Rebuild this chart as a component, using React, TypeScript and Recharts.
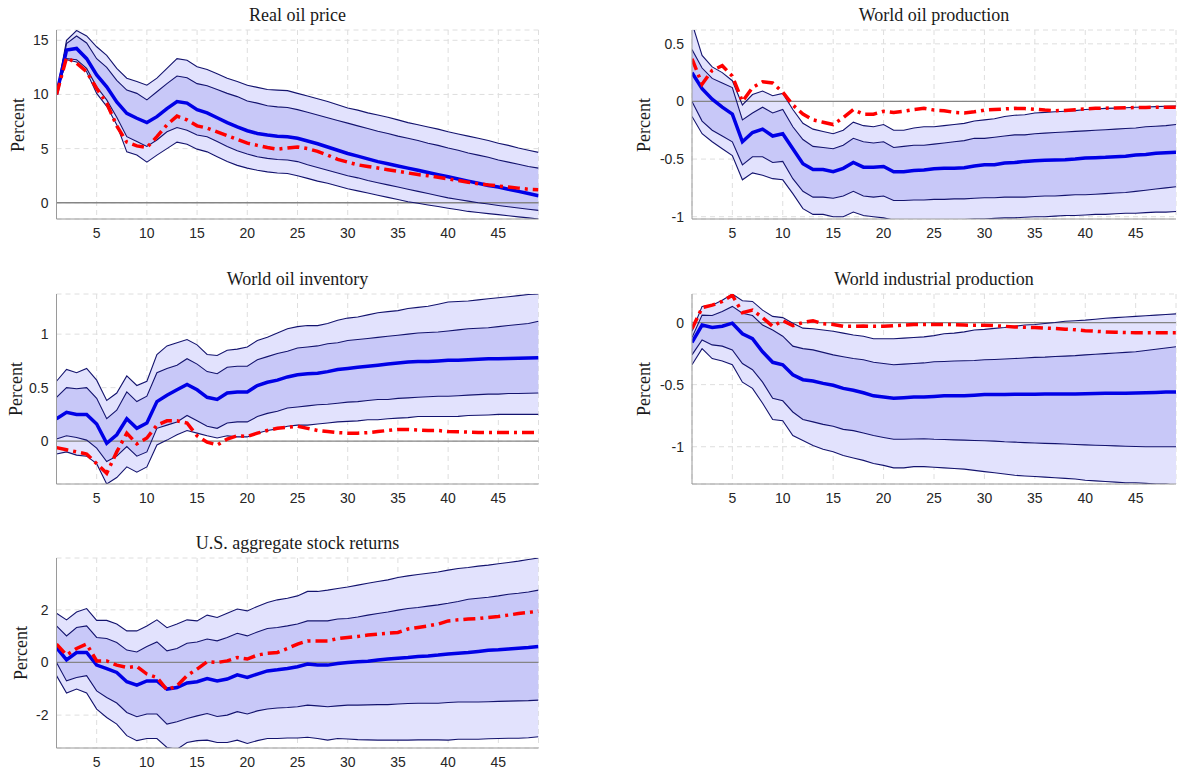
import { Area, CartesianGrid, ComposedChart, Line, ReferenceLine, XAxis, YAxis } from "recharts";

// horizon (months after the shock)
const horizon = Array.from({ length: 49 }, (_, i) => i + 1);
const xTicks = [5, 10, 15, 20, 25, 30, 35, 40, 45];

// Real oil price
const oilPriceHi90 = [10, 15.0, 15.9, 15.4, 14.4, 13.6, 12.4, 11.5, 11.2, 10.85, 11.5, 12.4, 13.3, 13.15, 12.55, 12.3, 11.9, 11.5, 11.2, 10.85, 10.65, 10.45, 10.4, 10.35, 10.1, 9.85, 9.6, 9.35, 9.05, 8.75, 8.55, 8.3, 8.1, 7.9, 7.65, 7.4, 7.2, 7.0, 6.8, 6.55, 6.35, 6.15, 5.95, 5.75, 5.5, 5.3, 5.05, 4.85, 4.65];
const oilPriceHi68 = [10, 14.7, 15.4, 14.75, 13.3, 12.5, 11.3, 10.4, 10.1, 9.5, 10.25, 11.0, 11.7, 11.55, 11.0, 10.8, 10.45, 10.1, 9.8, 9.4, 9.2, 8.95, 8.85, 8.8, 8.6, 8.35, 8.1, 7.85, 7.6, 7.35, 7.1, 6.85, 6.6, 6.4, 6.15, 5.95, 5.75, 5.5, 5.3, 5.05, 4.85, 4.6, 4.4, 4.2, 3.95, 3.75, 3.55, 3.35, 3.2];
const oilPriceMedian = [10, 14.1, 14.25, 13.3, 11.8, 10.7, 9.3, 8.25, 7.8, 7.4, 7.95, 8.7, 9.35, 9.2, 8.6, 8.3, 7.85, 7.4, 7.0, 6.65, 6.4, 6.25, 6.15, 6.1, 5.95, 5.7, 5.45, 5.15, 4.85, 4.55, 4.3, 4.05, 3.8, 3.6, 3.4, 3.2, 3.0, 2.8, 2.6, 2.4, 2.2, 2.0, 1.8, 1.6, 1.45, 1.25, 1.05, 0.85, 0.65];
const oilPriceAlt = [10, 13.4, 12.9, 12.1, 10.55, 9.2, 7.1, 5.6, 5.25, 5.1, 6.1, 7.2, 8.0, 7.65, 7.1, 6.9, 6.55, 6.2, 5.85, 5.5, 5.3, 5.1, 4.95, 5.05, 5.15, 5.0, 4.75, 4.4, 4.0, 3.75, 3.5, 3.35, 3.2, 3.05, 2.9, 2.75, 2.6, 2.5, 2.35, 2.2, 2.05, 1.9, 1.75, 1.65, 1.55, 1.45, 1.35, 1.25, 1.2];
const oilPriceLo68 = [10, 13.3, 13.2, 12.4, 10.7, 9.5, 7.9, 6.1, 5.65, 5.2, 5.8, 6.55, 6.95, 6.7, 6.25, 6.1, 5.65, 5.2, 4.8, 4.5, 4.25, 4.1, 4.0, 3.95, 3.8, 3.5, 3.25, 3.0, 2.75, 2.5, 2.3, 2.05, 1.85, 1.65, 1.45, 1.25, 1.05, 0.85, 0.65, 0.45, 0.3, 0.15, 0.0, -0.12, -0.25, -0.37, -0.48, -0.6, -0.7];
const oilPriceLo90 = [10, 13.2, 13.0, 12.1, 10.1, 8.9, 7.2, 4.7, 4.4, 3.75, 4.4, 5.0, 5.6, 5.4, 4.95, 4.7, 4.25, 3.8, 3.45, 3.2, 3.0, 2.85, 2.75, 2.7, 2.5, 2.25, 2.0, 1.8, 1.55, 1.3, 1.1, 0.9, 0.7, 0.5, 0.3, 0.1, -0.05, -0.2, -0.35, -0.5, -0.65, -0.8, -0.9, -1.0, -1.1, -1.2, -1.3, -1.4, -1.5];

// World oil production
const oilProdHi90 = [0.68, 0.4, 0.3, 0.25, 0.18, -0.03, 0.06, 0.09, 0.05, 0.07, -0.07, -0.19, -0.24, -0.26, -0.28, -0.25, -0.18, -0.21, -0.22, -0.2, -0.25, -0.25, -0.23, -0.22, -0.22, -0.21, -0.2, -0.19, -0.17, -0.16, -0.15, -0.13, -0.12, -0.115, -0.1, -0.095, -0.09, -0.085, -0.08, -0.07, -0.065, -0.06, -0.058, -0.055, -0.05, -0.048, -0.045, -0.042, -0.04];
const oilProdHi68 = [0.45, 0.29, 0.2, 0.16, 0.12, -0.16, -0.1, -0.05, -0.1, -0.07, -0.22, -0.33, -0.39, -0.4, -0.41, -0.38, -0.32, -0.35, -0.36, -0.35, -0.4, -0.39, -0.38, -0.38, -0.37, -0.36, -0.35, -0.34, -0.32, -0.32, -0.31, -0.3, -0.29, -0.29, -0.28, -0.275, -0.27, -0.265, -0.26, -0.255, -0.25, -0.245, -0.24, -0.235, -0.23, -0.22, -0.215, -0.21, -0.2];
const oilProdMedian = [0.25, 0.11, 0.02, -0.05, -0.11, -0.35, -0.27, -0.24, -0.3, -0.28, -0.41, -0.54, -0.59, -0.59, -0.61, -0.58, -0.53, -0.57, -0.57, -0.565, -0.61, -0.61, -0.6, -0.595, -0.585, -0.58, -0.58, -0.575, -0.56, -0.55, -0.55, -0.535, -0.53, -0.52, -0.515, -0.51, -0.508, -0.505, -0.5, -0.49, -0.488, -0.485, -0.48, -0.475, -0.465, -0.46, -0.45, -0.445, -0.44];
const oilProdAlt = [0.37, 0.15, 0.27, 0.31, 0.22, 0.0, 0.12, 0.17, 0.16, 0.08, -0.03, -0.11, -0.16, -0.18, -0.2, -0.14, -0.07, -0.11, -0.11, -0.085, -0.095, -0.085, -0.07, -0.06, -0.075, -0.08, -0.095, -0.1, -0.09, -0.075, -0.07, -0.065, -0.06, -0.062, -0.068, -0.075, -0.08, -0.078, -0.072, -0.065, -0.06, -0.058, -0.056, -0.055, -0.053, -0.052, -0.05, -0.05, -0.05];
const oilProdLo68 = [0.0, -0.17, -0.25, -0.3, -0.35, -0.55, -0.48, -0.48, -0.53, -0.52, -0.67, -0.78, -0.83, -0.83, -0.84, -0.82, -0.78, -0.82, -0.83, -0.82, -0.86, -0.86, -0.855, -0.855, -0.85, -0.85, -0.845, -0.845, -0.84, -0.835, -0.835, -0.83, -0.83, -0.83, -0.825, -0.82, -0.82, -0.815, -0.81, -0.81, -0.805, -0.8, -0.795, -0.79, -0.78, -0.77, -0.76, -0.75, -0.74];
const oilProdLo90 = [-0.13, -0.28, -0.35, -0.41, -0.47, -0.68, -0.62, -0.64, -0.67, -0.68, -0.8, -0.93, -0.98, -0.98, -1.0, -1.0, -0.96, -0.99, -1.0, -1.01, -1.03, -1.03, -1.03, -1.035, -1.03, -1.03, -1.03, -1.025, -1.02, -1.02, -1.015, -1.01, -1.01, -1.005, -1.0, -1.0, -0.995, -0.99, -0.99, -0.985, -0.98, -0.98, -0.975, -0.97, -0.97, -0.965, -0.96, -0.96, -0.955];

// World oil inventory
const inventoryHi90 = [0.56, 0.67, 0.64, 0.68, 0.57, 0.38, 0.45, 0.61, 0.52, 0.56, 0.81, 0.89, 0.92, 0.95, 0.9, 0.81, 0.8, 0.85, 0.86, 0.88, 0.94, 0.97, 1.01, 1.05, 1.07, 1.08, 1.08, 1.1, 1.13, 1.15, 1.16, 1.18, 1.2, 1.21, 1.22, 1.24, 1.25, 1.26, 1.28, 1.3, 1.305, 1.31, 1.32, 1.33, 1.34, 1.35, 1.36, 1.37, 1.375];
const inventoryHi68 = [0.41, 0.5, 0.49, 0.5, 0.4, 0.21, 0.29, 0.46, 0.37, 0.42, 0.64, 0.68, 0.71, 0.77, 0.72, 0.65, 0.63, 0.69, 0.7, 0.7, 0.76, 0.79, 0.82, 0.84, 0.87, 0.88, 0.89, 0.91, 0.92, 0.94, 0.95, 0.96, 0.97, 0.98, 0.99, 1.0, 1.01, 1.015, 1.02, 1.03, 1.04, 1.05, 1.055, 1.06, 1.07, 1.08, 1.09, 1.1, 1.12];
const inventoryMedian = [0.21, 0.27, 0.25, 0.25, 0.16, -0.02, 0.06, 0.21, 0.12, 0.17, 0.37, 0.43, 0.48, 0.53, 0.48, 0.41, 0.39, 0.45, 0.46, 0.46, 0.52, 0.55, 0.57, 0.6, 0.62, 0.63, 0.635, 0.65, 0.67, 0.68, 0.69, 0.7, 0.71, 0.72, 0.73, 0.74, 0.745, 0.745, 0.75, 0.755, 0.757, 0.76, 0.765, 0.77, 0.77, 0.772, 0.775, 0.778, 0.78];
const inventoryAlt = [-0.06, -0.08, -0.1, -0.12, -0.21, -0.3, -0.1, 0.075, -0.025, 0.03, 0.15, 0.19, 0.19, 0.17, 0.05, -0.01, -0.035, 0.02, 0.05, 0.045, 0.075, 0.1, 0.12, 0.13, 0.14, 0.12, 0.1, 0.09, 0.08, 0.075, 0.075, 0.08, 0.09, 0.1, 0.11, 0.11, 0.105, 0.1, 0.1, 0.09, 0.088, 0.085, 0.082, 0.08, 0.08, 0.08, 0.08, 0.08, 0.08];
const inventoryLo68 = [0.02, 0.05, 0.035, 0.01, -0.065, -0.19, -0.14, -0.05, -0.14, -0.1, 0.12, 0.15, 0.18, 0.24, 0.19, 0.14, 0.12, 0.17, 0.18, 0.18, 0.23, 0.26, 0.28, 0.31, 0.32, 0.33, 0.34, 0.345, 0.355, 0.365, 0.37, 0.38, 0.39, 0.39, 0.4, 0.405, 0.41, 0.415, 0.42, 0.42, 0.425, 0.43, 0.435, 0.44, 0.44, 0.445, 0.445, 0.448, 0.45];
const inventoryLo90 = [-0.12, -0.1, -0.13, -0.14, -0.21, -0.4, -0.34, -0.24, -0.29, -0.24, -0.035, 0.01, 0.06, 0.1, 0.075, 0.05, 0.03, 0.05, 0.04, 0.04, 0.075, 0.1, 0.115, 0.14, 0.15, 0.15, 0.16, 0.17, 0.18, 0.185, 0.19, 0.2, 0.2, 0.21, 0.215, 0.22, 0.23, 0.23, 0.23, 0.23, 0.232, 0.24, 0.242, 0.245, 0.25, 0.25, 0.25, 0.25, 0.25];

// World industrial production
const indProdHi90 = [-0.07, 0.13, 0.14, 0.18, 0.23, 0.175, 0.17, 0.1, 0.05, 0.04, -0.005, -0.045, -0.05, -0.06, -0.07, -0.085, -0.1, -0.11, -0.13, -0.13, -0.13, -0.125, -0.12, -0.115, -0.105, -0.09, -0.085, -0.075, -0.06, -0.055, -0.047, -0.04, -0.03, -0.02, -0.015, -0.007, 0.0, 0.01, 0.015, 0.02, 0.027, 0.035, 0.04, 0.045, 0.05, 0.055, 0.06, 0.065, 0.07];
const indProdHi68 = [-0.12, 0.06, 0.057, 0.09, 0.13, 0.075, 0.057, -0.02, -0.06, -0.11, -0.19, -0.21, -0.22, -0.24, -0.26, -0.275, -0.29, -0.3, -0.32, -0.33, -0.34, -0.335, -0.33, -0.325, -0.315, -0.313, -0.31, -0.308, -0.305, -0.3, -0.297, -0.294, -0.29, -0.285, -0.28, -0.278, -0.273, -0.27, -0.266, -0.26, -0.255, -0.25, -0.245, -0.24, -0.235, -0.225, -0.215, -0.205, -0.195];
const indProdMedian = [-0.16, -0.02, -0.04, -0.03, -0.005, -0.09, -0.13, -0.235, -0.32, -0.34, -0.42, -0.46, -0.47, -0.49, -0.505, -0.53, -0.545, -0.565, -0.59, -0.6, -0.61, -0.605, -0.6, -0.6, -0.595, -0.59, -0.59, -0.59, -0.585, -0.58, -0.58, -0.58, -0.578, -0.578, -0.578, -0.576, -0.576, -0.576, -0.575, -0.573, -0.572, -0.57, -0.57, -0.57, -0.567, -0.565, -0.563, -0.56, -0.56];
const indProdAlt = [-0.05, 0.12, 0.14, 0.17, 0.22, 0.08, 0.1, 0.04, -0.03, 0.015, -0.025, 0.0, 0.015, -0.01, -0.015, -0.03, -0.03, -0.028, -0.03, -0.03, -0.025, -0.02, -0.015, -0.015, -0.015, -0.015, -0.017, -0.02, -0.022, -0.022, -0.025, -0.03, -0.035, -0.038, -0.04, -0.045, -0.048, -0.053, -0.058, -0.065, -0.07, -0.075, -0.078, -0.08, -0.082, -0.083, -0.083, -0.083, -0.083];
const indProdLo68 = [-0.26, -0.14, -0.18, -0.19, -0.22, -0.33, -0.38, -0.48, -0.61, -0.63, -0.72, -0.78, -0.8, -0.82, -0.835, -0.86, -0.87, -0.89, -0.91, -0.925, -0.94, -0.94, -0.938, -0.936, -0.94, -0.942, -0.945, -0.947, -0.95, -0.952, -0.955, -0.96, -0.963, -0.967, -0.97, -0.973, -0.975, -0.978, -0.982, -0.985, -0.988, -0.99, -0.993, -0.996, -0.998, -1.0, -1.0, -1.0, -1.0];
const indProdLo90 = [-0.34, -0.21, -0.29, -0.31, -0.34, -0.48, -0.53, -0.65, -0.78, -0.79, -0.91, -0.95, -0.99, -1.02, -1.04, -1.07, -1.09, -1.11, -1.135, -1.15, -1.17, -1.17, -1.16, -1.16, -1.165, -1.17, -1.175, -1.18, -1.19, -1.2, -1.21, -1.22, -1.23, -1.235, -1.24, -1.245, -1.25, -1.255, -1.26, -1.27, -1.275, -1.28, -1.285, -1.29, -1.29, -1.295, -1.3, -1.3, -1.31];

// U.S. aggregate stock returns
const stockHi90 = [1.87, 1.62, 1.92, 2.05, 1.6, 1.6, 1.46, 1.2, 1.2, 1.39, 1.62, 1.32, 1.46, 1.62, 1.58, 1.8, 1.71, 1.87, 2.03, 1.96, 2.13, 2.28, 2.38, 2.44, 2.53, 2.7, 2.7, 2.75, 2.81, 2.87, 2.94, 3.01, 3.08, 3.14, 3.23, 3.29, 3.34, 3.39, 3.44, 3.51, 3.57, 3.61, 3.66, 3.7, 3.75, 3.8, 3.85, 3.91, 3.97];
const stockHi68 = [1.39, 1.01, 1.33, 1.39, 0.95, 0.91, 0.76, 0.47, 0.4, 0.61, 0.78, 0.44, 0.53, 0.73, 0.78, 0.89, 0.82, 0.95, 1.11, 1.01, 1.16, 1.29, 1.33, 1.39, 1.46, 1.58, 1.58, 1.58, 1.65, 1.67, 1.73, 1.8, 1.86, 1.92, 1.99, 2.05, 2.09, 2.14, 2.19, 2.25, 2.32, 2.4, 2.44, 2.48, 2.53, 2.59, 2.63, 2.68, 2.75];
const stockMedian = [0.57, 0.1, 0.38, 0.38, -0.1, -0.23, -0.38, -0.73, -0.86, -0.7, -0.7, -1.01, -0.95, -0.78, -0.73, -0.61, -0.7, -0.63, -0.47, -0.57, -0.44, -0.32, -0.28, -0.23, -0.16, -0.06, -0.1, -0.1, -0.04, 0.0, 0.03, 0.05, 0.09, 0.13, 0.16, 0.19, 0.23, 0.25, 0.28, 0.32, 0.35, 0.38, 0.42, 0.46, 0.48, 0.51, 0.54, 0.57, 0.61];
const stockAlt = [0.7, 0.28, 0.53, 0.7, 0.06, 0.06, -0.1, -0.19, -0.15, -0.44, -0.57, -1.04, -0.89, -0.5, -0.25, 0.03, 0.0, 0.06, 0.19, 0.13, 0.28, 0.35, 0.38, 0.53, 0.7, 0.82, 0.82, 0.82, 0.91, 0.95, 0.99, 1.04, 1.08, 1.11, 1.14, 1.27, 1.33, 1.39, 1.46, 1.58, 1.62, 1.65, 1.67, 1.71, 1.75, 1.8, 1.86, 1.9, 1.95];
const stockLo68 = [0.0, -0.7, -0.57, -0.5, -1.08, -1.33, -1.54, -1.9, -2.06, -1.96, -1.96, -2.34, -2.25, -2.13, -2.03, -1.94, -2.05, -2.0, -1.87, -1.96, -1.84, -1.77, -1.73, -1.71, -1.68, -1.62, -1.65, -1.68, -1.65, -1.62, -1.62, -1.61, -1.6, -1.6, -1.58, -1.56, -1.55, -1.55, -1.55, -1.52, -1.5, -1.5, -1.5, -1.49, -1.48, -1.47, -1.46, -1.45, -1.43];
const stockLo90 = [-0.5, -1.16, -1.01, -1.16, -1.77, -2.09, -2.34, -2.78, -2.97, -2.89, -2.89, -3.23, -3.3, -3.04, -2.97, -2.95, -3.04, -3.04, -2.95, -3.08, -2.97, -2.89, -2.89, -2.87, -2.87, -2.84, -2.89, -2.95, -2.89, -2.91, -2.93, -2.94, -2.95, -2.95, -2.95, -2.95, -2.94, -2.94, -2.94, -2.95, -2.92, -2.92, -2.92, -2.9, -2.89, -2.88, -2.88, -2.86, -2.82];

const titles = ["Real oil price", "World oil production", "World oil inventory", "World industrial production", "U.S. aggregate stock returns"];
const yDomains: [number, number][] = [[-1.5, 15.95], [-1.02, 0.62], [-0.4, 1.375], [-1.3, 0.23], [-3.25, 3.97]];
const yTicks = [[0, 5, 10, 15], [-1, -0.5, 0, 0.5], [0, 0.5, 1], [-1, -0.5, 0], [-2, 0, 2]];

const series = [
  [oilPriceLo90, oilPriceLo68, oilPriceMedian, oilPriceAlt, oilPriceHi68, oilPriceHi90],
  [oilProdLo90, oilProdLo68, oilProdMedian, oilProdAlt, oilProdHi68, oilProdHi90],
  [inventoryLo90, inventoryLo68, inventoryMedian, inventoryAlt, inventoryHi68, inventoryHi90],
  [indProdLo90, indProdLo68, indProdMedian, indProdAlt, indProdHi68, indProdHi90],
  [stockLo90, stockLo68, stockMedian, stockAlt, stockHi68, stockHi90],
];

// plot-area boxes on the page: [chartLeft, plotLeft, plotTop, plotWidth, plotHeight, labelX]
const boxes = [
  [0, 56.5, 30, 482, 189, 18],
  [600, 692, 30, 484, 189, 644],
  [0, 56.5, 294, 482, 190, 16],
  [600, 692, 294, 484, 190, 644],
  [0, 56.5, 558, 482, 190, 21],
];

const tickStyle = { fontFamily: "Liberation Sans, Arial, sans-serif", fontSize: 14, fill: "#262626" };
const serif = "Liberation Serif, Times New Roman, serif";

const Panel = ({ idx }: { idx: number }) => {
  const [lo90, lo68, med, alt, hi68, hi90] = series[idx];
  const [chartLeft, plotLeft, plotTop, plotW, plotH, labelX] = boxes[idx];
  const data = horizon.map((h, i) => ({
    h,
    outer: [lo90[i], hi90[i]],
    inner: [lo68[i], hi68[i]],
    lo90: lo90[i],
    lo68: lo68[i],
    med: med[i],
    alt: alt[i],
    hi68: hi68[i],
    hi90: hi90[i],
  }));
  const axisW = plotLeft - chartLeft;
  const top = 30;
  const width = axisW + plotW + 6;
  const height = top + plotH + 28;
  return (
    <>
      <div
        style={{
          position: "absolute",
          left: plotLeft,
          width: plotW,
          top: plotTop - 25,
          lineHeight: "20px",
          textAlign: "center",
          fontFamily: serif,
          fontSize: 18,
          color: "#1a1a1a",
          whiteSpace: "nowrap",
        }}
      >
        {titles[idx]}
      </div>
      <div
        style={{
          position: "absolute",
          left: labelX,
          top: plotTop + plotH / 2,
          lineHeight: "20px",
          transform: "translate(-50%, -50%) rotate(-90deg)",
          fontFamily: serif,
          fontSize: 18,
          color: "#1a1a1a",
          whiteSpace: "nowrap",
        }}
      >
        Percent
      </div>
      <div style={{ position: "absolute", left: chartLeft, top: plotTop - top }}>
        <ComposedChart width={width} height={height} data={data} margin={{ top, right: 6, bottom: 0, left: 0 }}>
          <CartesianGrid stroke="#dedede" strokeDasharray="5 4" />
          <XAxis
            dataKey="h"
            type="number"
            domain={[1, 49]}
            ticks={xTicks}
            allowDataOverflow
            height={28}
            tick={tickStyle}
            tickLine={false}
            tickMargin={3}
            axisLine={{ stroke: "#9a9a9a" }}
          />
          <YAxis
            type="number"
            domain={yDomains[idx]}
            ticks={yTicks[idx]}
            allowDataOverflow
            width={axisW}
            tick={tickStyle}
            tickLine={false}
            axisLine={{ stroke: "#9a9a9a" }}
          />
          <XAxis xAxisId="top" orientation="top" dataKey="h" type="number" domain={[1, 49]} height={0} tick={false} tickLine={false} axisLine={{ stroke: "#9a9a9a" }} />
          <YAxis yAxisId="right" orientation="right" domain={yDomains[idx]} width={0} tick={false} tickLine={false} axisLine={{ stroke: "#9a9a9a" }} />
          <Area dataKey="outer" stroke="none" fill="#e2e2fd" fillOpacity={1} isAnimationActive={false} />
          <Area dataKey="inner" stroke="none" fill="#c8c8f8" fillOpacity={1} isAnimationActive={false} />
          <ReferenceLine y={0} stroke="#858585" strokeWidth={1.3} />
          <Line dataKey="hi90" stroke="#13136e" strokeWidth={1.1} dot={false} isAnimationActive={false} />
          <Line dataKey="hi68" stroke="#13136e" strokeWidth={1.1} dot={false} isAnimationActive={false} />
          <Line dataKey="lo68" stroke="#13136e" strokeWidth={1.1} dot={false} isAnimationActive={false} />
          <Line dataKey="lo90" stroke="#13136e" strokeWidth={1.1} dot={false} isAnimationActive={false} />
          <Line dataKey="med" stroke="#0000e6" strokeWidth={3.5} dot={false} isAnimationActive={false} />
          <Line dataKey="alt" stroke="#ff0000" strokeWidth={3.5} strokeDasharray="12 5 3 5" dot={false} isAnimationActive={false} />
        </ComposedChart>
      </div>
    </>
  );
};

const App = () => (
  <div style={{ position: "absolute", left: 0, top: 0, width: 1186, height: 776, background: "#fff" }}>
    {titles.map((_, i) => (
      <Panel key={i} idx={i} />
    ))}
  </div>
);

export default App;
